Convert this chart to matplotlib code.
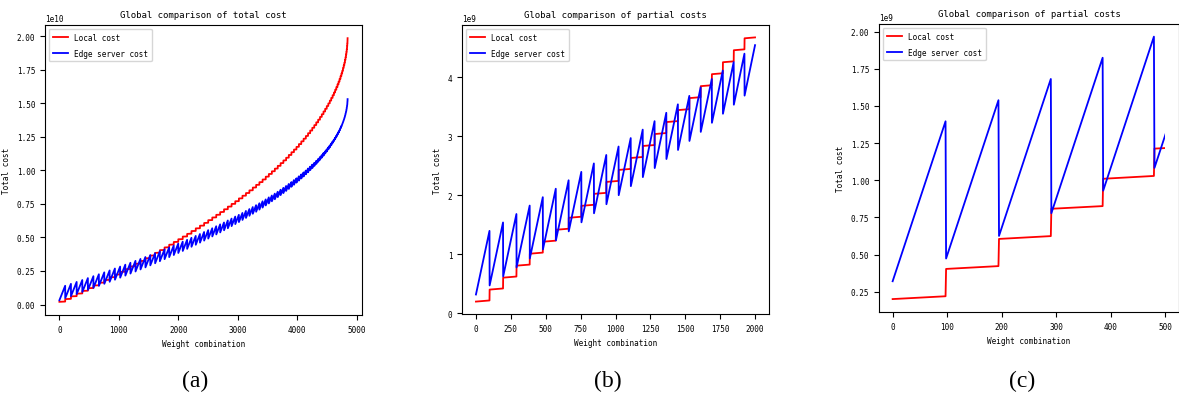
import numpy as np
import matplotlib
matplotlib.use("Agg")
import matplotlib.pyplot as plt
from matplotlib.patches import Rectangle

# ---- data (vertices of the piecewise-linear curves, costs in units of 1e9) ----
seg_start = [0, 98, 195, 291, 386, 480, 573, 665, 756, 846,
             935, 1023, 1110, 1196, 1281, 1365, 1448, 1530, 1611, 1691,
             1770, 1848, 1925, 2001, 2076, 2150, 2223, 2295, 2366, 2436,
             2505, 2573, 2640, 2706, 2771, 2835, 2898, 2960, 3021, 3081,
             3140, 3198, 3255, 3311, 3366, 3420, 3473, 3525, 3576, 3626,
             3675, 3723, 3770, 3816, 3861, 3905, 3948, 3990, 4031, 4071,
             4110, 4148, 4185, 4221, 4256, 4290, 4323, 4355, 4386, 4416,
             4445, 4473, 4500, 4526, 4551, 4575, 4598, 4620, 4641, 4661,
             4680, 4698, 4715, 4731, 4746, 4760, 4773, 4785, 4796, 4806,
             4815, 4823, 4830, 4836, 4841, 4845, 4848, 4850]
seg_end = [97, 194, 290, 385, 479, 572, 664, 755, 845, 934,
           1022, 1109, 1195, 1280, 1364, 1447, 1529, 1610, 1690, 1769,
           1847, 1924, 2000, 2075, 2149, 2222, 2294, 2365, 2435, 2504,
           2572, 2639, 2705, 2770, 2834, 2897, 2959, 3020, 3080, 3139,
           3197, 3254, 3310, 3365, 3419, 3472, 3524, 3575, 3625, 3674,
           3722, 3769, 3815, 3860, 3904, 3947, 3989, 4030, 4070, 4109,
           4147, 4184, 4220, 4255, 4289, 4322, 4354, 4385, 4415, 4444,
           4472, 4499, 4525, 4550, 4574, 4597, 4619, 4640, 4660, 4679,
           4697, 4714, 4730, 4745, 4759, 4772, 4784, 4795, 4805, 4814,
           4822, 4829, 4835, 4840, 4844, 4847, 4849, 4850]

local_start = [0.200, 0.403, 0.605, 0.808, 1.010, 1.213, 1.415, 1.618, 1.820, 2.023,
               2.225, 2.428, 2.630, 2.833, 3.035, 3.238, 3.440, 3.643, 3.845, 4.048,
               4.250, 4.453, 4.655, 4.86, 5.06, 5.26, 5.47, 5.67, 5.87, 6.07,
               6.28, 6.48, 6.68, 6.88, 7.09, 7.29, 7.49, 7.69, 7.90, 8.10,
               8.30, 8.50, 8.71, 8.91, 9.11, 9.31, 9.52, 9.72, 9.92, 10.12,
               10.33, 10.53, 10.73, 10.93, 11.14, 11.34, 11.54, 11.74, 11.95, 12.15,
               12.35, 12.55, 12.76, 12.96, 13.16, 13.36, 13.57, 13.77, 13.97, 14.17,
               14.38, 14.58, 14.78, 14.98, 15.19, 15.39, 15.59, 15.79, 16.00, 16.20,
               16.40, 16.60, 16.81, 17.01, 17.21, 17.41, 17.62, 17.82, 18.02, 18.22,
               18.43, 18.63, 18.83, 19.03, 19.24, 19.44, 19.64, 19.84]
local_end = [0.219, 0.422, 0.624, 0.826, 1.029, 1.231, 1.433, 1.636, 1.838, 2.040,
             2.242, 2.445, 2.647, 2.849, 3.052, 3.254, 3.456, 3.659, 3.861, 4.063,
             4.265, 4.468, 4.670, 4.87, 5.07, 5.28, 5.48, 5.68, 5.88, 6.09,
             6.29, 6.49, 6.69, 6.90, 7.10, 7.30, 7.50, 7.70, 7.91, 8.11,
             8.31, 8.51, 8.72, 8.92, 9.12, 9.32, 9.53, 9.73, 9.93, 10.13,
             10.33, 10.54, 10.74, 10.94, 11.14, 11.35, 11.55, 11.75, 11.95, 12.16,
             12.36, 12.56, 12.76, 12.96, 13.17, 13.37, 13.57, 13.77, 13.98, 14.18,
             14.38, 14.58, 14.79, 14.99, 15.19, 15.39, 15.59, 15.80, 16.00, 16.20,
             16.40, 16.61, 16.81, 17.01, 17.21, 17.41, 17.62, 17.82, 18.02, 18.22,
             18.43, 18.63, 18.83, 19.03, 19.24, 19.44, 19.64, 19.84]
edge_start = [0.320, 0.473, 0.625, 0.778, 0.930, 1.083, 1.236, 1.388, 1.541, 1.694,
              1.847, 2.000, 2.153, 2.306, 2.459, 2.612, 2.765, 2.918, 3.071, 3.225,
              3.378, 3.531, 3.685, 3.838, 3.99, 4.145, 4.30, 4.45, 4.61, 4.76,
              4.91, 5.07, 5.22, 5.37, 5.53, 5.68, 5.84, 5.99, 6.14, 6.30,
              6.45, 6.61, 6.76, 6.91, 7.07, 7.22, 7.38, 7.53, 7.69, 7.84,
              8.00, 8.15, 8.30, 8.46, 8.61, 8.77, 8.92, 9.08, 9.23, 9.39,
              9.54, 9.70, 9.85, 10.01, 10.16, 10.32, 10.47, 10.63, 10.78, 10.94,
              11.09, 11.25, 11.40, 11.56, 11.71, 11.87, 12.03, 12.18, 12.34, 12.49,
              12.65, 12.80, 12.96, 13.12, 13.27, 13.43, 13.58, 13.74, 13.89, 14.05,
              14.21, 14.36, 14.52, 14.68, 14.83, 14.99, 15.14, 15.30]
edge_end = [1.397, 1.539, 1.682, 1.825, 1.967, 2.110, 2.253, 2.395, 2.538, 2.681,
            2.824, 2.967, 3.110, 3.253, 3.395, 3.538, 3.681, 3.824, 3.966, 4.110,
            4.253, 4.395, 4.539, 4.682, 4.82, 4.97, 5.11, 5.25, 5.40, 5.54,
            5.68, 5.83, 5.97, 6.11, 6.26, 6.40, 6.55, 6.68, 6.82, 6.97,
            7.11, 7.26, 7.40, 7.54, 7.69, 7.83, 7.98, 8.12, 8.26, 8.40,
            8.55, 8.69, 8.83, 8.98, 9.12, 9.27, 9.40, 9.55, 9.69, 9.84,
            9.98, 10.13, 10.27, 10.42, 10.55, 10.70, 10.84, 10.99, 11.13, 11.28,
            11.41, 11.56, 11.70, 11.85, 11.99, 12.14, 12.28, 12.42, 12.57, 12.71,
            12.86, 12.99, 13.14, 13.29, 13.43, 13.58, 13.71, 13.86, 14.00, 14.15,
            14.30, 14.43, 14.58, 14.73, 14.87, 15.01, 15.15, 15.30]

titles = ["Global comparison of total cost",
          "Global comparison of partial costs",
          "Global comparison of partial costs"]
x_cut = [4850, 2000, 500]
captions = ["(a)", "(b)", "(c)"]
series_labels = ["Local cost", "Edge server cost"]
x_label = "Weight combination"
y_label = "Total cost"

# ---- build polylines ----
scale = 1e9
xs = np.column_stack([seg_start, seg_end]).ravel()
y_local = np.column_stack([local_start, local_end]).ravel() * scale
y_edge = np.column_stack([edge_start, edge_end]).ravel() * scale

plt.rcParams['font.family'] = ['DejaVu Sans Mono']

fig = plt.figure(figsize=(11.79, 4.10), dpi=100)
W, H = 1179.0, 410.0
boxes = [(45, 26, 362, 316), (462, 26, 769, 315), (879, 25, 1179, 313)]
limits = [None,
          ((-100, 2100), (-0.01e9, 4.88e9)),
          ((-25, 525), (0.113e9, 2.052e9))]
cap_x = [195, 608, 1022]

for i in range(3):
    l, t, r, b = boxes[i]
    ax = fig.add_axes([l / W, 1 - b / H, (r - l) / W, (b - t) / H])
    # keep vertices up to the cut (plus the one just after, clipped below)
    n = int(np.searchsorted(xs, x_cut[i], side='right'))
    if xs[n - 1] < x_cut[i] and n < len(xs):
        n += 1
    ln1, = ax.plot(xs[:n], y_local[:n], color='red', lw=1.3, label=series_labels[0])
    ln2, = ax.plot(xs[:n], y_edge[:n], color='blue', lw=1.3, label=series_labels[1])
    if limits[i] is not None:
        ax.set_xlim(*limits[i][0])
        ax.set_ylim(*limits[i][1])
        if xs[n - 1] > x_cut[i]:
            clip = Rectangle((limits[i][0][0], 0), x_cut[i] - limits[i][0][0], 3e10,
                             transform=ax.transData)
            ln1.set_clip_path(clip)
            ln2.set_clip_path(clip)
    ax.set_title(titles[i], fontsize=6.5)
    ax.set_xlabel(x_label, fontsize=5.5)
    ax.set_ylabel(y_label, fontsize=5.5)
    ax.tick_params(labelsize=5.5)
    ax.yaxis.get_offset_text().set_fontsize(5.5)
    ax.legend(loc='upper left', fontsize=5.5, labelspacing=0.9, borderpad=0.5)
    fig.text(cap_x[i] / W, 1 - 381 / H, captions[i], ha='center', va='center',
             fontsize=17, family='Liberation Serif')

fig.savefig("out.png", dpi=100)
